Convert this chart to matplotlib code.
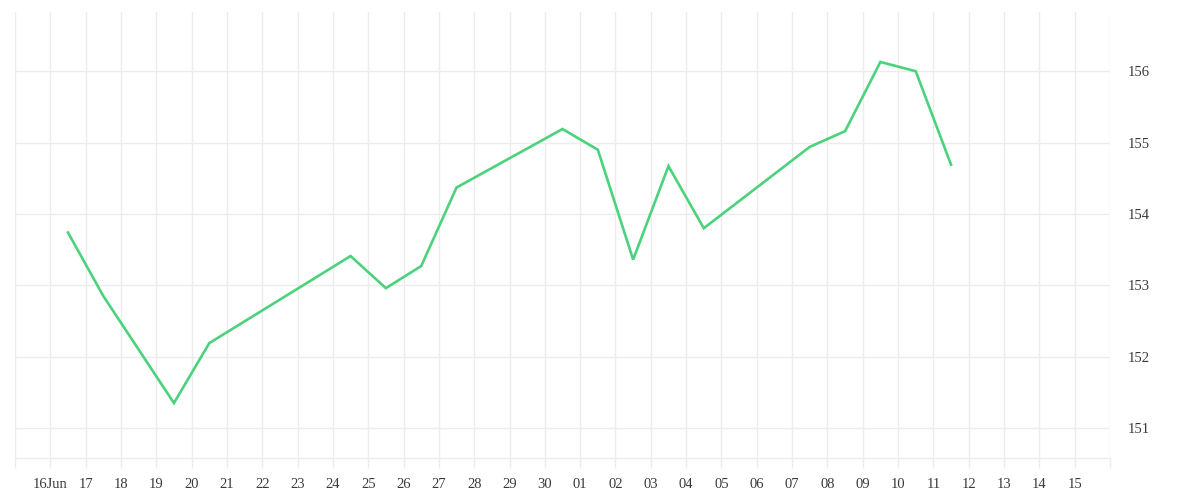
import matplotlib
matplotlib.use("Agg")
import matplotlib.pyplot as plt
import matplotlib.dates as mdates
from matplotlib.ticker import FixedLocator, FuncFormatter
import datetime as dt

# Data (timestamps at midday)
dates = ["2024-06-16", "2024-06-17", "2024-06-19", "2024-06-20", "2024-06-24",
         "2024-06-25", "2024-06-26", "2024-06-27", "2024-06-30", "2024-07-01",
         "2024-07-02", "2024-07-03", "2024-07-04", "2024-07-07", "2024-07-08",
         "2024-07-09", "2024-07-10", "2024-07-11"]
values = [153.74, 152.85, 151.35, 152.19, 153.41,
          152.96, 153.27, 154.37, 155.19, 154.90,
          153.36, 154.67, 153.80, 154.94, 155.16,
          156.13, 156.00, 154.69]
y_ticks = [151, 152, 153, 154, 155, 156]

x = [dt.datetime.strptime(d, "%Y-%m-%d") + dt.timedelta(hours=12) for d in dates]

fig = plt.figure(figsize=(12, 5), dpi=100)
ax = fig.add_axes([15/1200, 42/500, (1110-15)/1200, (458-12)/500])

grid_c = "#ececec"
ax.plot(x, values, color="#4cd27c", linewidth=1.9, solid_joinstyle="miter", zorder=3)

start = dt.datetime(2024, 6, 15)
end = dt.datetime(2024, 7, 16)
ax.set_xlim(start, end)
ax.set_ylim(150.58, 156.83)

day_ticks = [mdates.date2num(start + dt.timedelta(days=i)) for i in range(32)]
ax.xaxis.set_major_locator(FixedLocator(day_ticks))

def fmt(v, pos):
    d = mdates.num2date(v)
    if d.day == 15 and d.month == 6:
        return ""
    if d.day == 16 and d.month == 7:
        return ""
    if d.day == 16 and d.month == 6:
        return "16Jun"
    return "%02d" % d.day
ax.xaxis.set_major_formatter(FuncFormatter(fmt))

ax.yaxis.tick_right()
ax.set_yticks(y_ticks)
ax.set_yticklabels([str(v) for v in y_ticks])

for s in ["top", "left", "right"]:
    ax.spines[s].set_visible(False)
ax.spines["bottom"].set_color(grid_c)
ax.spines["bottom"].set_linewidth(1)

ax.grid(True, color=grid_c, linewidth=1)
ax.set_axisbelow(True)

ax.tick_params(axis="x", length=7.2, width=1, color=grid_c, pad=7.5, labelcolor="#3a3a3a",
               labelsize=10.5)
ax.tick_params(axis="y", length=0, pad=13, labelcolor="#3a3a3a", labelsize=10.5)
for lab in ax.get_xticklabels() + ax.get_yticklabels():
    lab.set_fontfamily("Liberation Serif")
for lab in ax.get_yticklabels():
    lab.set_y(lab.get_position()[1])

fig.savefig("out.png", dpi=100, facecolor="white")
